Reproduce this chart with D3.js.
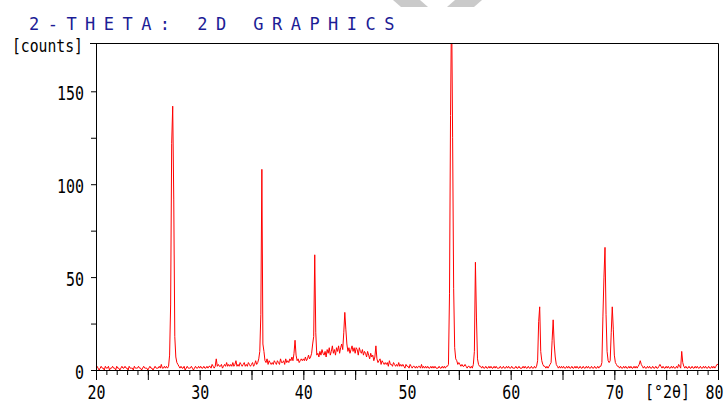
<!DOCTYPE html>
<html>
<head>
<meta charset="utf-8">
<script src="https://cdn.jsdelivr.net/npm/d3@7"></script>
<style>
  body { margin: 0; background: #fff; }
  svg { display: block; }
</style>
</head>
<body>
<div id="chart"></div>
<script>
// scan: 20.0 .. 80.0 deg 2-theta, step 0.1
const thetaStart = 20;
const thetaStep = 0.1;

// counts, one row per degree
const counts = [
  1,2,1,0,1,2,1,1,0,2,        // 20
  1,1,2,0,1,1,2,1,1,0,        // 21
  2,1,1,0,1,2,1,1,2,1,        // 22
  1,0,2,1,1,1,0,2,1,1,        // 23
  1,2,1,1,0,1,2,1,1,1,        // 24
  0,1,2,1,1,0,1,2,1,1,        // 25
  1,2,1,3,1,1,2,1,2,1,        // 26
  2,8,35,122,142,92,18,7,4,3, // 27
  2,1,2,1,1,2,0,1,2,1,        // 28
  1,1,2,1,0,1,2,1,1,2,        // 29
  1,2,1,1,2,1,1,2,1,2,        // 30
  2,1,3,2,1,2,6,2,3,2,        // 31
  2,3,1,2,3,2,4,2,3,2,        // 32
  3,2,4,2,3,5,2,3,2,4,        // 33
  3,2,3,4,2,3,2,4,3,2,        // 34
  3,4,2,3,5,3,4,6,10,30,      // 35
  108,14,10,5,4,6,3,5,4,3,    // 36
  4,3,5,4,3,5,4,3,6,4,        // 37
  4,5,3,6,4,5,4,6,5,7,        // 38
  5,9,16,8,5,6,4,5,6,5,       // 39
  6,5,7,5,6,8,6,7,9,14,       // 40
  18,62,20,8,9,7,10,8,11,9,   // 41
  8,10,7,11,9,12,8,10,13,9,   // 42
  11,8,12,10,13,9,12,14,11,20,// 43
  31,22,14,10,12,9,11,13,10,12,// 44
  9,12,11,8,12,10,9,11,8,10,  // 45
  9,7,10,8,6,9,7,8,5,7,       // 46
  13,6,4,5,6,3,5,4,3,4,       // 47
  3,4,2,5,3,3,2,4,3,2,        // 48
  3,2,4,2,3,2,3,2,1,3,        // 49
  2,2,1,3,2,1,2,2,1,2,        // 50
  1,2,2,1,3,1,2,1,2,1,        // 51
  2,1,1,2,1,2,1,2,1,1,        // 52
  1,2,1,1,2,1,2,1,2,2,        // 53
  3,41,137,200,125,44,12,6,5,3,// 54
  4,3,2,3,2,2,3,2,1,2,        // 55
  2,1,2,1,3,10,58,28,6,3,     // 56
  2,2,1,2,1,1,2,1,1,2,        // 57
  1,2,1,1,2,1,2,1,1,1,        // 58
  2,1,1,2,1,1,2,1,2,1,        // 59
  1,2,1,1,1,2,1,1,2,1,        // 60
  1,1,2,1,2,1,1,2,1,1,        // 61
  2,1,1,2,1,2,5,26,34,10,     // 62
  5,3,2,2,1,2,1,2,3,4,        // 63
  16,27,14,7,3,2,1,2,1,2,     // 64
  1,2,1,1,2,1,2,1,1,2,        // 65
  1,1,2,1,2,1,1,2,1,1,        // 66
  2,1,1,2,1,2,1,1,2,1,        // 67
  1,2,1,1,2,1,2,2,4,29,       // 68
  50,66,30,10,5,4,5,20,34,22, // 69
  8,4,3,2,2,1,2,1,1,2,        // 70
  1,2,1,1,2,1,2,1,1,2,        // 71
  1,2,1,2,3,5,3,2,1,2,        // 72
  1,1,2,1,2,1,1,2,1,1,        // 73
  2,1,1,2,3,2,1,2,1,1,        // 74
  2,1,2,1,1,2,1,2,1,1,        // 75
  2,1,3,2,1,10,4,2,1,2,       // 76
  1,1,2,1,1,2,1,1,2,1,        // 77
  2,1,1,2,1,1,2,1,2,1,        // 78
  1,2,1,1,2,1,2,1,2,3,        // 79
  3                           // 80
];

const xMinorTicks = d3.range(20, 81, 1);
const xMajorTicks = [20, 25, 30, 35, 40, 45, 50, 55, 60, 65, 70, 75, 80];
const xTickLabels = [20, 30, 40, 50, 60, 70, 80];
const yTicks = [0, 25, 50, 75, 100, 125, 150];
const yTickLabels = [0, 50, 100, 150];

const titleText = "2-THETA: 2D GRAPHICS";
const yUnit = "[counts]";
const xUnit = "[°2θ]";

const width = 728, height = 403;
const monoFont = "'DejaVu Sans Mono', 'Liberation Mono', monospace";

const svg = d3.select("#chart").append("svg")
    .attr("width", width)
    .attr("height", height);

const x = d3.scaleLinear().domain([20, 80]).range([96, 718]);
const y = d3.scaleLinear().domain([0, 176]).range([370, 43]);

// faint grey marks at the very top
svg.append("polygon")
    .attr("points", "393,0 420,0 428,7 401,7")
    .attr("fill", "#cacaca");
svg.append("polygon")
    .attr("points", "455,0 482,0 474,7 447,7")
    .attr("fill", "#cacaca");

// title
svg.append("text")
    .attr("x", 29)
    .attr("y", 30)
    .attr("font-family", monoFont)
    .attr("font-size", 17)
    .attr("letter-spacing", 8.46)
    .attr("fill", "#1c1c96")
    .text(titleText);

// clip for the pattern
svg.append("clipPath").attr("id", "plotClip")
  .append("rect")
    .attr("x", 96).attr("y", 43.5)
    .attr("width", 622).attr("height", 327);

const data = counts.map((c, i) => ({t: +(thetaStart + i * thetaStep).toFixed(2), c: c}));

const line = d3.line()
    .x(d => x(d.t))
    .y(d => y(d.c));

svg.append("path")
    .datum(data)
    .attr("clip-path", "url(#plotClip)")
    .attr("fill", "none")
    .attr("stroke", "#ff0000")
    .attr("stroke-width", 1)
    .attr("d", line);

// frame: top and right
svg.append("line")
    .attr("x1", 90).attr("x2", 718.5)
    .attr("y1", 43.5).attr("y2", 43.5)
    .attr("stroke", "#000");
svg.append("line")
    .attr("x1", 718.5).attr("x2", 718.5)
    .attr("y1", 43.5).attr("y2", 370.5)
    .attr("stroke", "#000");

// x axis: minor ticks
svg.append("g")
    .attr("transform", "translate(0,370)")
    .call(d3.axisBottom(x).tickValues(xMinorTicks).tickSize(5).tickSizeOuter(0).tickFormat(""));

// x axis: major ticks + labels
const xAxis = svg.append("g")
    .attr("transform", "translate(0,370)")
    .call(d3.axisBottom(x).tickValues(xMajorTicks).tickSize(10).tickSizeOuter(0)
        .tickFormat(d => xTickLabels.includes(d) ? d : ""));
xAxis.selectAll("text")
    .attr("font-family", monoFont)
    .attr("font-size", 20)
    .attr("fill", "#000")
    .attr("y", 29)
    .attr("dy", null)
    .each(function(d) {
        const s = d3.select(this).text();
        if (s) d3.select(this).attr("textLength", 9 * s.length).attr("lengthAdjust", "spacingAndGlyphs");
        // last label sits against the right edge
        if (d === 80) d3.select(this).attr("text-anchor", "end").attr("x", 5);
    });

// y axis
const yAxis = svg.append("g")
    .attr("transform", "translate(96,0)")
    .call(d3.axisLeft(y).tickValues(yTicks).tickSize(5).tickSizeOuter(0)
        .tickFormat(d => yTickLabels.includes(d) ? d : ""));
yAxis.selectAll("text")
    .attr("font-family", monoFont)
    .attr("font-size", 20)
    .attr("fill", "#000")
    .attr("x", -12)
    .attr("y", 8)
    .attr("dy", null)
    .each(function() {
        const s = d3.select(this).text();
        if (s) d3.select(this).attr("textLength", 9 * s.length).attr("lengthAdjust", "spacingAndGlyphs");
    });

// unit labels
svg.append("text")
    .attr("x", 12).attr("y", 52)
    .attr("font-family", monoFont)
    .attr("font-size", 18)
    .attr("textLength", 71)
    .attr("lengthAdjust", "spacingAndGlyphs")
    .text(yUnit);

svg.append("text")
    .attr("x", 645).attr("y", 398)
    .attr("font-family", monoFont)
    .attr("font-size", 18)
    .attr("textLength", 45)
    .attr("lengthAdjust", "spacingAndGlyphs")
    .text(xUnit);
</script>
</body>
</html>
